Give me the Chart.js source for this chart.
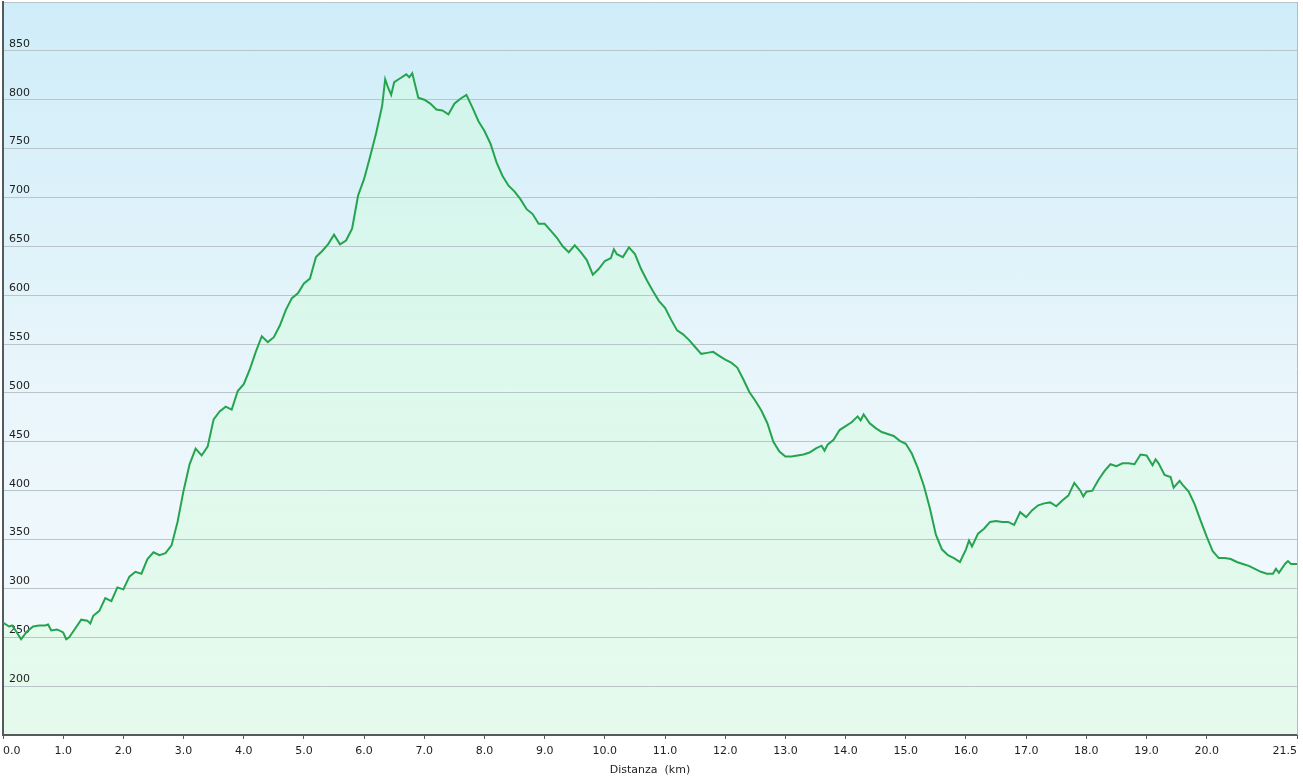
<!DOCTYPE html>
<html>
<head>
<meta charset="utf-8">
<title>Profilo altimetrico</title>
<script src="https://cdn.jsdelivr.net/npm/chart.js@4/dist/chart.umd.min.js"></script>
<style>
  html, body { margin: 0; padding: 0; background: #fff; }
  #wrap { width: 1303px; height: 779px; }
  /* sky background behind the plot area (fill and grid are drawn on top of it) */
  #profile {
    background:
      linear-gradient(to bottom, #cfedf9 0%, #e8f5fb 50%, #f6fbfe 100%) 3px 2px / 1294px 733px no-repeat,
      #ffffff;
  }
</style>
</head>
<body>
<div id="wrap"><canvas id="profile" width="1303" height="779"></canvas></div>
<script>
// ---- data ----
const distanceKm = [
  0.0, 0.1, 0.15, 0.2, 0.3, 0.4, 0.5, 0.6, 0.7, 0.75, 0.8, 0.9,
  1.0, 1.05, 1.1, 1.2, 1.3, 1.4, 1.45, 1.5, 1.6, 1.7, 1.8, 1.9,
  2.0, 2.1, 2.2, 2.3, 2.4, 2.5, 2.6, 2.7, 2.8, 2.9,
  3.0, 3.1, 3.2, 3.3, 3.4, 3.5, 3.6, 3.7, 3.8, 3.9,
  4.0, 4.1, 4.2, 4.3, 4.4, 4.5, 4.6, 4.7, 4.8, 4.9,
  5.0, 5.1, 5.2, 5.3, 5.4, 5.5, 5.6, 5.7, 5.8, 5.9,
  6.0, 6.1, 6.2, 6.3, 6.35, 6.4, 6.45, 6.5, 6.6, 6.7, 6.75, 6.8, 6.9,
  7.0, 7.1, 7.2, 7.3, 7.4, 7.5, 7.6, 7.7, 7.8, 7.9,
  8.0, 8.1, 8.2, 8.3, 8.4, 8.5, 8.6, 8.7, 8.8, 8.9,
  9.0, 9.1, 9.2, 9.3, 9.4, 9.5, 9.6, 9.7, 9.8, 9.9,
  10.0, 10.1, 10.15, 10.2, 10.3, 10.4, 10.5, 10.6, 10.7, 10.8, 10.9,
  11.0, 11.1, 11.2, 11.3, 11.4, 11.5, 11.6, 11.7, 11.8, 11.9,
  12.0, 12.1, 12.2, 12.3, 12.4, 12.5, 12.6, 12.7, 12.8, 12.9,
  13.0, 13.1, 13.2, 13.3, 13.4, 13.5, 13.6, 13.65, 13.7, 13.8, 13.9,
  14.0, 14.1, 14.2, 14.25, 14.3, 14.4, 14.5, 14.6, 14.7, 14.8, 14.9,
  15.0, 15.1, 15.2, 15.3, 15.4, 15.5, 15.6, 15.7, 15.8, 15.9,
  16.0, 16.05, 16.1, 16.2, 16.3, 16.4, 16.5, 16.6, 16.7, 16.8, 16.9,
  17.0, 17.1, 17.2, 17.3, 17.4, 17.5, 17.6, 17.7, 17.8, 17.9, 17.95,
  18.0, 18.1, 18.2, 18.3, 18.4, 18.5, 18.6, 18.7, 18.8, 18.9,
  19.0, 19.1, 19.15, 19.2, 19.3, 19.4, 19.45, 19.55, 19.6, 19.7, 19.8, 19.9,
  20.0, 20.1, 20.2, 20.3, 20.4, 20.5, 20.6, 20.7, 20.8, 20.9,
  21.0, 21.1, 21.15, 21.2, 21.3, 21.35, 21.4, 21.5
];

const elevationM = [
  265, 261, 262, 258, 248, 256, 261, 262, 262, 263, 257, 258,
  255, 248, 250, 259, 268, 267, 264, 272, 277, 290, 287, 301,
  299, 312, 317, 315, 330, 337, 334, 336, 344, 368,
  400, 427, 443, 436, 445, 473, 481, 486, 483, 502,
  509, 524, 542, 558, 552, 557, 569, 585, 597, 602,
  612, 617, 639, 645, 652, 662, 652, 656, 668, 702,
  719, 742, 766, 794, 821, 812, 805, 818, 822, 826, 823, 827, 802,
  800, 796, 790, 789, 785, 796, 801, 805, 792, 778,
  768, 755, 736, 722, 712, 706, 698, 688, 683, 673,
  673, 666, 659, 650, 644, 651, 644, 636, 621, 627,
  635, 638, 647, 642, 639, 649, 642, 627, 615, 604, 594,
  587, 575, 564, 560, 554, 547, 540, 541, 542, 538,
  534, 531, 526, 514, 501, 492, 482, 469, 450, 440,
  435, 435, 436, 437, 439, 443, 446, 441, 447, 452, 462,
  466, 470, 476, 472, 478, 469, 464, 460, 458, 456, 451,
  448, 438, 423, 405, 382, 355, 340, 334, 331, 327,
  340, 349, 343, 356, 361, 368, 369, 368, 368, 365, 378,
  373, 380, 385, 387, 388, 384, 390, 395, 408, 400, 394,
  399, 400, 411, 420, 427, 425, 428, 428, 427, 437,
  436, 426, 432, 428, 416, 414, 403, 410, 406, 399, 386, 369,
  353, 338, 331, 331, 330, 327, 325, 323, 320, 317,
  315, 315, 320, 316, 325, 328, 325, 325
];

const xTickValues = [0, 1, 2, 3, 4, 5, 6, 7, 8, 9, 10, 11, 12, 13, 14, 15, 16, 17, 18, 19, 20, 21.5];
const yHiddenTicks = [150, 900];

const FONT = { family: 'DejaVu Sans, Verdana, sans-serif', size: 11 };
const TEXT = '#1e1e1e';
const LINE = '#25a44e';
const GRID = '#b9c5ca';
const AXIS = '#555a5c';

// thin light frame on the right side of the plot
const framePlugin = {
  id: 'frame',
  afterDraw(chart) {
    const { ctx, chartArea: a } = chart;
    ctx.save();
    ctx.strokeStyle = '#b4bdc0';
    ctx.lineWidth = 1;
    ctx.beginPath();
    ctx.moveTo(a.right + 0.5, a.top);
    ctx.lineTo(a.right + 0.5, a.bottom);
    ctx.stroke();
    ctx.restore();
  }
};

function areaFill(context) {
  const { chart } = context;
  const a = chart.chartArea;
  if (!a) return 'rgba(210,245,225,0.5)';
  const g = chart.ctx.createLinearGradient(0, a.top, 0, a.bottom);
  g.addColorStop(0, 'rgba(205,250,225,0.5)');
  g.addColorStop(1, 'rgba(225,250,232,0.8)');
  return g;
}

new Chart(document.getElementById('profile'), {
  type: 'line',
  data: {
    datasets: [{
      label: 'Quota',
      data: distanceKm.map((d, i) => ({ x: d, y: elevationM[i] })),
      borderColor: LINE,
      borderWidth: 2,
      backgroundColor: areaFill,
      fill: 'start',
      pointRadius: 0,
      tension: 0
    }]
  },
  options: {
    responsive: false,
    animation: false,
    devicePixelRatio: 1,
    layout: { padding: { top: 2, right: 6, left: 0, bottom: 0 } },
    plugins: {
      legend: { display: false },
      tooltip: { enabled: false },
      filler: { drawTime: 'beforeDraw' }   // area under grid and labels
    },
    scales: {
      x: {
        type: 'linear',
        min: 0,
        max: 21.5,
        afterBuildTicks: scale => { scale.ticks = xTickValues.map(v => ({ value: v })); },
        afterFit: scale => { scale.height = 44; scale.paddingLeft = 0; scale.paddingRight = 0; },
        ticks: {
          align: 'inner',
          autoSkip: false,
          maxRotation: 0,
          padding: 6,
          color: TEXT,
          font: FONT,
          callback: v => Number(v).toFixed(1)
        },
        grid: { drawOnChartArea: false, drawTicks: true, tickLength: 4, tickColor: AXIS, tickWidth: 1 },
        border: { display: true, color: AXIS, width: 2 },
        title: { display: true, text: 'Distanza  (km)', color: TEXT, font: FONT, padding: { top: 3, bottom: 2 } }
      },
      y: {
        min: 150,
        max: 900,
        afterFit: scale => { scale.width = 3; scale.paddingTop = 0; scale.paddingBottom = 0; },
        ticks: {
          stepSize: 50,
          mirror: true,
          padding: 6,
          labelOffset: -7,
          color: TEXT,
          font: FONT,
          callback: v => yHiddenTicks.includes(v) ? '' : String(v)
        },
        grid: { color: GRID, lineWidth: 1, drawTicks: false },
        border: { display: true, color: AXIS, width: 2 }
      }
    }
  },
  plugins: [framePlugin]
});
</script>
</body>
</html>
